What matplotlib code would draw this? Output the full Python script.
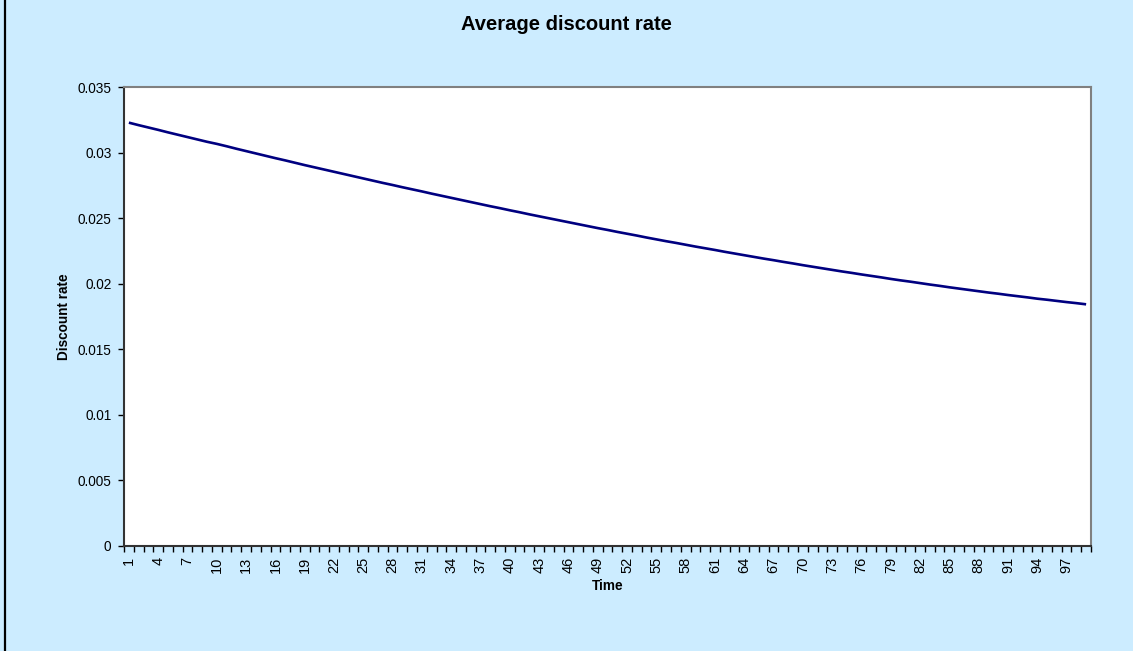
"""Average discount rate over time (Excel-style line chart)."""

import matplotlib
matplotlib.use("Agg")
import matplotlib.pyplot as plt
from matplotlib.lines import Line2D

# time steps 1..99
time = list(range(1, 100))
discount_rate = [
    0.03230, 0.03211, 0.03193, 0.03175, 0.03156, 0.03138, 0.03120, 0.03102, 0.03084, 0.03068,
    0.03050, 0.03031, 0.03013, 0.02995, 0.02977, 0.02959, 0.02942, 0.02924, 0.02906, 0.02889,
    0.02872, 0.02855, 0.02838, 0.02821, 0.02804, 0.02787, 0.02770, 0.02754, 0.02737, 0.02721,
    0.02705, 0.02688, 0.02672, 0.02656, 0.02640, 0.02624, 0.02608, 0.02592, 0.02577, 0.02561,
    0.02546, 0.02530, 0.02515, 0.02500, 0.02485, 0.02470, 0.02455, 0.02440, 0.02425, 0.02411,
    0.02396, 0.02382, 0.02368, 0.02353, 0.02339, 0.02325, 0.02312, 0.02298, 0.02284, 0.02271,
    0.02258, 0.02244, 0.02231, 0.02218, 0.02205, 0.02192, 0.02180, 0.02167, 0.02155, 0.02142,
    0.02130, 0.02118, 0.02106, 0.02094, 0.02083, 0.02071, 0.02060, 0.02049, 0.02037, 0.02026,
    0.02016, 0.02005, 0.01994, 0.01984, 0.01973, 0.01963, 0.01953, 0.01943, 0.01933, 0.01924,
    0.01914, 0.01905, 0.01896, 0.01886, 0.01878, 0.01869, 0.01860, 0.01852, 0.01843,
]
x_tick_labels = [str(t) for t in range(1, 100, 3)]
y_ticks = [0, 0.005, 0.01, 0.015, 0.02, 0.025, 0.03, 0.035]
y_tick_labels = ["0", "0.005", "0.01", "0.015", "0.02", "0.025", "0.03", "0.035"]

plt.rcParams["font.family"] = ["Liberation Sans", "DejaVu Sans"]

bg = "#CCECFF"
fig = plt.figure(figsize=(11.33, 6.51), dpi=100, facecolor=bg)
ax = fig.add_axes([124 / 1133, 1 - 545.7 / 651, (1091 - 124) / 1133, (545.7 - 87.3) / 651])
ax.set_facecolor("white")

ax.plot(time, discount_rate, color="#000080", linewidth=1.9, solid_capstyle="butt")

ax.set_xlim(0.5, 99.5)
ax.set_ylim(0, 0.035)

# category labels at centres, tick marks on category boundaries
ax.set_xticks([int(s) for s in x_tick_labels])
ax.set_xticklabels(x_tick_labels, rotation=90, fontsize=10.5)
ax.set_xticks([b + 0.5 for b in range(0, 100)], minor=True)
ax.tick_params(axis="x", which="major", length=0, pad=8)
ax.tick_params(axis="x", which="minor", length=4, width=1, color="black", direction="out")

ax.set_yticks(y_ticks)
ax.set_yticklabels(y_tick_labels, fontsize=9.8)
ax.tick_params(axis="y", length=4, width=1, color="black", direction="out", pad=5)

for side in ("left", "bottom"):
    ax.spines[side].set_color("#333333")
    ax.spines[side].set_linewidth(1.5)
for side in ("top", "right"):
    ax.spines[side].set_color("#808080")
    ax.spines[side].set_linewidth(1.5)

ax.set_xlabel("Time", fontsize=9.8, fontweight="bold", labelpad=4)
ax.set_ylabel("Discount rate", fontsize=9.8, fontweight="bold", labelpad=5)
fig.text(566 / 1133, 1 - 24 / 651, "Average discount rate", ha="center", va="center",
         fontsize=14.5, fontweight="bold")

# left border of the chart area
fig.add_artist(Line2D([5 / 1133, 5 / 1133], [0, 1], color="black", linewidth=1.6,
                      transform=fig.transFigure))

fig.savefig("out.png", dpi=100, facecolor=bg)
